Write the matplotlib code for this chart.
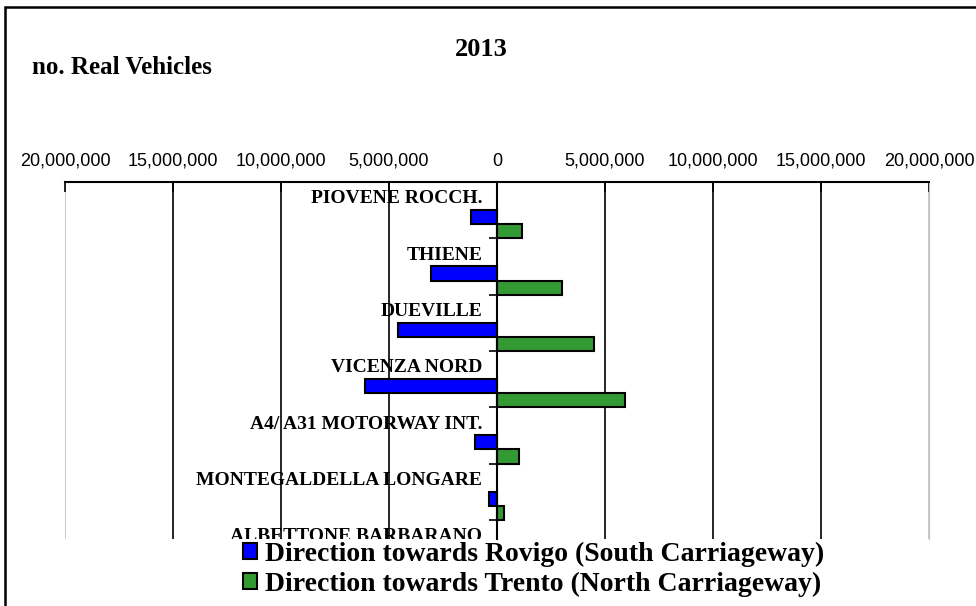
import matplotlib.pyplot as plt
import matplotlib.patches as mpatches
import numpy as np

# data
stations = ['PIOVENE ROCCH.', 'THIENE', 'DUEVILLE', 'VICENZA NORD',
            'A4/ A31 MOTORWAY INT.', 'MONTEGALDELLA LONGARE', 'ALBETTONE BARBARANO']
rovigo = [1200000, 3050000, 4580000, 6110000, 1040000, 380000, 600000]
trento = [1160000, 3000000, 4470000, 5930000, 1020000, 340000, 560000]
xticks = [-20000000, -15000000, -10000000, -5000000, 0, 5000000, 10000000, 15000000, 20000000]

serif = 'Liberation Serif'
sans = 'Liberation Sans'
blue = '#0000FF'
green = '#339933'

fig = plt.figure(figsize=(9.76, 6.06), dpi=100)
ax = fig.add_axes([65/976, 1-539/606, (929-65)/976, (539-182)/606])

pos = np.arange(len(stations))
b1 = ax.barh(pos + 0.625, [-v for v in rovigo], height=0.25, color=blue,
             edgecolor='black', linewidth=1.5, zorder=2,
             label='Direction towards Rovigo (South Carriageway)')
b2 = ax.barh(pos + 0.875, trento, height=0.25, color=green,
             edgecolor='black', linewidth=1.5, zorder=2,
             label='Direction towards Trento (North Carriageway)')

for i, name in enumerate(stations):
    ax.text(-680000, i + 0.3, name, ha='right', va='center', fontsize=14,
            fontweight='bold', family=serif, zorder=1, clip_on=True)

ax.xaxis.tick_top()
ax.set_xticks(xticks)
ax.set_xticklabels(['{:,}'.format(abs(t)) for t in xticks], family=sans, fontsize=13)
ax.tick_params(axis='x', direction='in', length=7, width=1.2, pad=9, color='black')
ax.grid(axis='x', color='black', linewidth=1.2, zorder=1.5)
gls = ax.get_xgridlines()
gls[0].set_color('#c0c0c0')
gls[-1].set_color('#c0c0c0')

ax.set_yticks(np.arange(0, 8))
ax.set_yticklabels([])
ax.spines['left'].set_position(('data', 0))
ax.spines['left'].set_linewidth(1.5)
ax.spines['left'].set_zorder(3)
ax.tick_params(axis='y', direction='out', length=6, width=1.2, color='black')
ax.spines['top'].set_linewidth(1.5)
ax.spines['bottom'].set_visible(False)
ax.spines['right'].set_color('#c0c0c0')

# limits last, set_yticks would stretch them
ax.set_xlim(-20000000, 20000000)
ax.set_ylim(6.34, 0)

fig.text(481/976, 1-50/606, '2013', ha='center', va='center', fontsize=19,
         fontweight='bold', family=serif)
fig.text(32/976, 1-68/606, 'no. Real Vehicles', ha='left', va='center', fontsize=18,
         fontweight='bold', family=serif)

fig.legend(handles=[b1, b2], loc='upper left', bbox_to_anchor=(243/976, 1-542/606),
           frameon=False, prop={'family': serif, 'weight': 'bold', 'size': 20},
           handlelength=0.5, handleheight=0.5, handletextpad=0.3, labelspacing=0.17,
           borderaxespad=0, borderpad=0)

frame = mpatches.Rectangle((5/976, -0.1), 1.1, 1.1 - 7/606, transform=fig.transFigure,
                           fill=False, edgecolor='black', linewidth=1.8)
fig.patches.append(frame)

plt.savefig('out.png', dpi=100)
